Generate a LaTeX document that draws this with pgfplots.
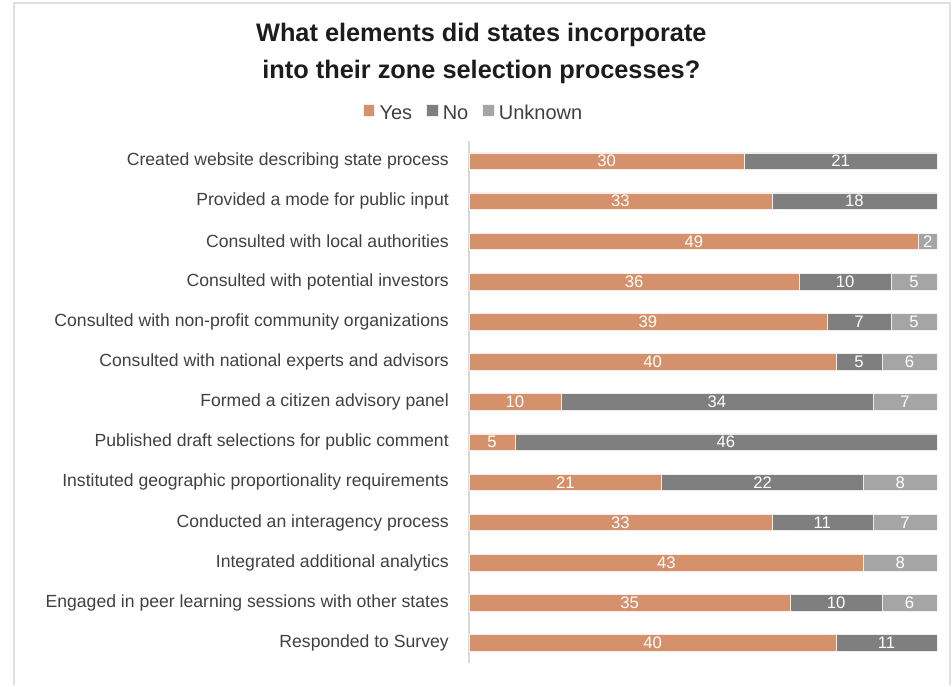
\documentclass[border=0pt]{standalone}
\usepackage{fontspec}
\setmainfont{Liberation Sans}
\usepackage{pgfplots}
\usepackage{pgfplotstable}
\pgfplotsset{compat=1.18}
\definecolor{cyes}{HTML}{D4916B}
\definecolor{cno}{HTML}{7F7F7F}
\definecolor{cunk}{HTML}{A5A5A5}
\definecolor{txt}{HTML}{404040}
\definecolor{ttl}{HTML}{1C1C1C}

\pgfplotstableread{
idx Y N U
0 30 21 0
1 33 18 0
2 49 0 2
3 36 10 5
4 39 7 5
5 40 5 6
6 10 34 7
7 5 46 0
8 21 22 8
9 33 11 7
10 43 0 8
11 35 10 6
12 40 11 0
}\data

\def\zerostr{0}
\newcommand\hidezero{\edef\tmpv{\pgfplotspointmeta}\ifx\tmpv\zerostr\else\tmpv\fi}

\begin{document}
\begin{tikzpicture}
\path (0,0) rectangle (714pt,-513.75pt);
\draw[black!12, line width=1.5pt] (10.5pt,-513.75pt) -- (10.5pt,-2.25pt) -- (712.5pt,-2.25pt) -- (712.5pt,-513.75pt);
\node[align=center, font=\bfseries\fontsize{19pt}{27.75pt}\selectfont, text=ttl] at (361pt,-40.1pt)
  {What elements did states incorporate\\into their zone selection processes?};

\begin{axis}[
  at={(351.75pt,-105.75pt)}, anchor=north west,
  scale only axis, width=351pt, height=391.5pt,
  xbar stacked, bar width=12.4pt,
  xmin=0, xmax=51, ymin=-0.5, ymax=12.5, y dir=reverse,
  enlargelimits=false,
  axis x line=none, axis y line*=left,
  y axis line style={draw=black!15, line width=0.9pt, -},
  ytick={0,...,12},
  yticklabels={Created website describing state process,
    Provided a mode for public input,
    Consulted with local authorities,
    Consulted with potential investors,
    Consulted with non-profit community  organizations,
    Consulted with national experts and advisors,
    Formed a citizen advisory panel,
    Published draft selections for public comment,
    Instituted geographic proportionality requirements,
    Conducted an interagency process,
    Integrated additional analytics,
    Engaged in peer learning sessions with other states,
    Responded to Survey},
  major tick length=0pt,
  yticklabel style={font=\fontsize{13.2pt}{15pt}\selectfont, text=txt, inner sep=0pt, xshift=-15pt},
  legend style={at={(0.0128,1.0505)}, anchor=center, legend columns=-1, draw=none,
    font=\fontsize{15pt}{17pt}\selectfont, text=txt,
    nodes={text height=1.6ex, text depth=0.45ex, inner xsep=3.5pt},
    /tikz/every even column/.append style={column sep=7pt}},
  legend image code/.code={\fill[#1] (0pt,-0.5pt) rectangle (8.5pt,8pt);},
]
\addplot[fill=cyes, draw=white!85!cyes, line width=0.4pt] table[x=Y, y=idx] {\data};
\addplot[fill=cno, draw=white!85!cno, line width=0.4pt] table[x=N, y=idx] {\data};
\addplot[fill=cunk, draw=white!85!cunk, line width=0.4pt] table[x=U, y=idx] {\data};
\legend{Yes, No, Unknown}
\end{axis}

\begin{axis}[
  at={(351.75pt,-105.75pt)}, anchor=north west,
  scale only axis, width=351pt, height=391.5pt,
  xmin=0, xmax=51, ymin=-0.5, ymax=12.5, y dir=reverse,
  hide axis,
  every axis plot/.append style={only marks, mark=*, mark size=0pt, mark options={draw=none, fill=none},
    nodes near coords={\hidezero}, point meta=explicit symbolic,
    nodes near coords align={center},
    every node near coord/.append style={anchor=center, text=white, font=\fontsize{12.5pt}{13pt}\selectfont}},
]
\addplot table[x expr=\thisrow{Y}/2, y=idx, meta=Y] {\data};
\addplot table[x expr=\thisrow{Y}+\thisrow{N}/2, y=idx, meta=N] {\data};
\addplot table[x expr=\thisrow{Y}+\thisrow{N}+\thisrow{U}/2, y=idx, meta=U] {\data};
\end{axis}
\end{tikzpicture}
\end{document}
